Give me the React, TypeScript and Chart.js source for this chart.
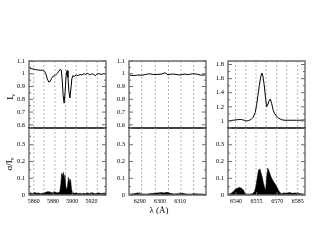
import React, { useEffect, useRef } from "react";
import { Chart, registerables } from "chart.js";
Chart.register(...registerables);

// ---------- Panel 1 : He I 5876 / Na I D ----------
const naWave = [5855, 5857, 5859, 5861, 5863, 5865, 5867, 5869, 5871, 5872.5, 5874, 5875.5, 5877, 5878.5, 5880, 5882, 5884, 5886, 5887.5, 5888.5, 5889.5, 5890.5, 5891.5, 5892.5, 5893.5, 5894.5, 5895.5, 5896.5, 5897.5, 5898.5, 5899.5, 5900.5, 5902, 5904, 5906, 5908, 5910, 5912, 5914, 5916, 5918, 5920, 5922, 5924, 5926, 5928, 5930, 5932, 5935];
const naFlux = [1.05, 1.04, 1.038, 1.035, 1.03, 1.03, 1.027, 1.028, 1.02, 1.0, 0.96, 0.935, 0.94, 0.965, 0.98, 0.985, 1.0, 1.02, 1.035, 1.03, 0.95, 0.83, 0.77, 0.86, 0.98, 1.025, 0.97, 0.86, 0.81, 0.88, 0.96, 0.985, 0.98, 0.99, 0.985, 0.995, 0.99, 1.0, 0.995, 1.005, 0.99, 1.0, 0.995, 0.985, 1.0, 1.0, 0.995, 1.0, 1.0];
const naSigWave = [5855, 5857, 5859, 5861, 5863, 5865, 5867, 5869, 5871, 5873, 5875, 5877, 5879, 5881, 5883, 5885, 5887, 5888, 5889, 5890, 5890.8, 5891.5, 5892.2, 5893, 5894, 5895, 5896, 5896.8, 5897.5, 5898.3, 5899, 5900, 5902, 5904, 5906, 5908, 5910, 5912, 5914, 5916, 5918, 5920, 5922, 5924, 5926, 5928, 5930, 5932, 5935];
const naSigma = [0.01, 0.012, 0.008, 0.015, 0.01, 0.012, 0.008, 0.01, 0.012, 0.018, 0.02, 0.018, 0.012, 0.02, 0.015, 0.012, 0.02, 0.06, 0.13, 0.11, 0.135, 0.1, 0.12, 0.06, 0.03, 0.05, 0.105, 0.08, 0.095, 0.085, 0.04, 0.015, 0.01, 0.012, 0.008, 0.01, 0.006, 0.01, 0.008, 0.012, 0.008, 0.015, 0.01, 0.008, 0.01, 0.012, 0.008, 0.01, 0.012];
const naRange = [5855, 5935];
const naXTicks = [5860, 5880, 5900, 5920];
const naGrid = [5860, 5870.5, 5882, 5893, 5904, 5915, 5926];

// ---------- Panel 2 : [O I] 6300 ----------
const oiWave = [6285, 6287, 6289, 6291, 6293, 6295, 6297, 6299, 6301, 6302.5, 6304, 6306, 6308, 6310, 6312, 6314, 6316, 6318, 6320, 6322.5];
const oiFlux = [0.99, 0.985, 0.99, 0.988, 0.995, 1.0, 0.993, 0.995, 0.998, 1.008, 0.992, 0.998, 0.995, 0.99, 0.998, 0.993, 1.0, 0.998, 0.99, 0.99];
const oiSigWave = [6285, 6287, 6289, 6291, 6293, 6295, 6297, 6299, 6300.5, 6302, 6303.5, 6305, 6307, 6309, 6311, 6313, 6315, 6317, 6319, 6322.5];
const oiSigma = [0.005, 0.008, 0.012, 0.006, 0.005, 0.008, 0.01, 0.012, 0.015, 0.012, 0.016, 0.01, 0.006, 0.008, 0.01, 0.006, 0.005, 0.008, 0.006, 0.005];
const oiRange = [6284.7, 6322.8];
const oiXTicks = [6290, 6300, 6310];
const oiGrid = [6291, 6297.7, 6304.2, 6310.4, 6316.7];

// ---------- Panel 3 : H alpha ----------
const haWave = [6534, 6536, 6538, 6540, 6542, 6544, 6546, 6547.5, 6549, 6551, 6552.5, 6554, 6555, 6556, 6557, 6558, 6558.8, 6559.5, 6560.5, 6561.5, 6562.3, 6563, 6564, 6565, 6566, 6567, 6568, 6569.5, 6571, 6573, 6575, 6578, 6581, 6584, 6587, 6590.3];
const haFlux = [1.0, 1.005, 1.01, 1.015, 1.02, 1.02, 1.01, 1.0, 1.005, 1.02, 1.05, 1.12, 1.22, 1.36, 1.5, 1.62, 1.68, 1.65, 1.52, 1.34, 1.2, 1.22, 1.28, 1.31, 1.25, 1.16, 1.11, 1.07, 1.04, 1.02, 1.01, 1.01, 1.01, 1.01, 1.01, 1.015];
const haSigWave = [6534, 6536, 6538, 6539.5, 6541, 6542.5, 6544, 6545.5, 6546.5, 6548, 6550, 6552, 6553.5, 6554.5, 6555.5, 6556.5, 6557.5, 6558.3, 6559, 6560, 6561, 6561.7, 6562.3, 6563.2, 6564, 6565, 6566, 6567, 6568.5, 6570, 6571.5, 6573, 6575, 6577, 6579, 6581, 6583, 6585, 6587, 6590.3];
const haSigma = [0.005, 0.008, 0.02, 0.035, 0.04, 0.045, 0.04, 0.03, 0.008, 0.005, 0.005, 0.008, 0.02, 0.05, 0.1, 0.15, 0.155, 0.13, 0.11, 0.07, 0.04, 0.03, 0.1, 0.16, 0.145, 0.12, 0.1, 0.085, 0.065, 0.045, 0.02, 0.008, 0.012, 0.01, 0.015, 0.01, 0.012, 0.01, 0.008, 0.005];
const haRange = [6534.2, 6590.3];
const haXTicks = [6540, 6555, 6570, 6585];
const haGrid = [6539.8, 6547.2, 6554.6, 6561.9, 6569.7, 6577, 6585];

// ---------- Y axes ----------
const fluxRange = [0.575, 1.1];
const fluxTicks = [0.6, 0.7, 0.8, 0.9, 1, 1.1];
const haFluxRange = [0.9, 1.85];
const haFluxTicks = [1, 1.2, 1.4, 1.6, 1.8];
const sigmaRange = [0, 0.4];
const sigmaTicks = [0, 0.1, 0.2, 0.3, 0.4];
const sigmaLabels = [0, 0.1, 0.2, 0.3];

const SERIF = "'Liberation Serif', 'Times New Roman', serif";
const FRAME = "#6a6a6a";

type PanelSpec = {
  wave: number[]; flux: number[]; sigWave: number[]; sigma: number[];
  xr: number[]; xt: number[]; grid: number[]; yr: number[]; yt: number[];
};

const panels: PanelSpec[] = [
  { wave: naWave, flux: naFlux, sigWave: naSigWave, sigma: naSigma, xr: naRange, xt: naXTicks, grid: naGrid, yr: fluxRange, yt: fluxTicks },
  { wave: oiWave, flux: oiFlux, sigWave: oiSigWave, sigma: oiSigma, xr: oiRange, xt: oiXTicks, grid: oiGrid, yr: fluxRange, yt: fluxTicks },
  { wave: haWave, flux: haFlux, sigWave: haSigWave, sigma: haSigma, xr: haRange, xt: haXTicks, grid: haGrid, yr: haFluxRange, yt: haFluxTicks },
];

const COL_LEFT = [29, 128.5, 228];
const PLOT_W = 77;
const TOP_Y = 61;
const MID_Y = 128;
const BOT_Y = 195;

function minorOf(major: number[], lo: number, hi: number) {
  const out: number[] = [];
  const step = major[1] - major[0];
  const cands = [major[0] - step / 2, ...major.map((m) => m + step / 2)];
  cands.forEach((c) => { if (c > lo + 1e-9 && c < hi - 1e-9) out.push(c); });
  return out;
}

function makeDecor(grid: number[], yMajor: number[], yMinor: number[], xMajor: number[], isBottom: boolean) {
  return {
    id: "decor",
    beforeDatasetsDraw(chart: any) {
      const { ctx, chartArea: a, scales } = chart;
      ctx.save();
      ctx.strokeStyle = "#a0a0a0";
      ctx.lineWidth = 0.8;
      ctx.setLineDash([2, 2]);
      grid.forEach((g) => {
        const px = scales.x.getPixelForValue(g);
        ctx.beginPath();
        ctx.moveTo(px, a.top);
        ctx.lineTo(px, a.bottom);
        ctx.stroke();
      });
      ctx.restore();
    },
    afterDatasetsDraw(chart: any) {
      const { ctx, chartArea: a, scales } = chart;
      ctx.save();
      ctx.strokeStyle = FRAME;
      ctx.lineWidth = 1;
      const tick = (x1: number, y1: number, x2: number, y2: number) => {
        ctx.beginPath(); ctx.moveTo(x1, y1); ctx.lineTo(x2, y2); ctx.stroke();
      };
      yMajor.forEach((v) => {
        const py = scales.y.getPixelForValue(v);
        tick(a.left, py, a.left + 4, py);
        tick(a.right, py, a.right - 4, py);
      });
      yMinor.forEach((v) => {
        const py = scales.y.getPixelForValue(v);
        tick(a.left, py, a.left + 2, py);
        tick(a.right, py, a.right - 2, py);
      });
      if (isBottom) {
        xMajor.forEach((v) => {
          const px = scales.x.getPixelForValue(v);
          tick(px, a.bottom, px, a.bottom - 3);
        });
      }
      ctx.lineWidth = 1.4;
      ctx.beginPath();
      if (isBottom) {
        ctx.moveTo(a.left, a.top);
        ctx.lineTo(a.left, a.bottom);
        ctx.lineTo(a.right, a.bottom);
        ctx.lineTo(a.right, a.top);
      } else {
        ctx.moveTo(a.left, a.bottom);
        ctx.lineTo(a.left, a.top);
        ctx.lineTo(a.right, a.top);
        ctx.lineTo(a.right, a.bottom);
      }
      ctx.stroke();
      if (!isBottom) {
        ctx.strokeStyle = "#000";
        ctx.lineWidth = 1.6;
        ctx.beginPath();
        ctx.moveTo(a.left - 0.7, a.bottom);
        ctx.lineTo(a.right + 0.7, a.bottom);
        ctx.stroke();
      }
      ctx.restore();
    },
  };
}

function makeConfig(p: PanelSpec, isBottom: boolean): any {
  const xs = isBottom ? p.sigWave : p.wave;
  const ys = isBottom ? p.sigma : p.flux;
  const yr = isBottom ? sigmaRange : p.yr;
  const yt = isBottom ? sigmaTicks : p.yt;
  const yl = isBottom ? sigmaLabels : p.yt;
  const pts = xs.map((x, i) => ({ x, y: ys[i] }));
  return {
    type: "line",
    data: {
      datasets: [
        {
          data: pts,
          borderColor: "#000",
          borderWidth: isBottom ? 0.6 : 1,
          backgroundColor: "#000",
          fill: isBottom ? "origin" : false,
          pointRadius: 0,
          tension: 0,
        },
      ],
    },
    options: {
      animation: false,
      responsive: false,
      maintainAspectRatio: false,
      events: [],
      layout: { padding: { top: 8, right: 10, left: 2, bottom: 2 } },
      plugins: { legend: { display: false }, tooltip: { enabled: false } },
      scales: {
        x: {
          type: "linear",
          min: p.xr[0],
          max: p.xr[1],
          display: isBottom,
          grid: { display: false, drawTicks: false, tickLength: 0 },
          border: { display: false },
          ticks: {
            color: "#000",
            font: { family: SERIF, size: 6 },
            padding: 3,
            maxRotation: 0,
            autoSkip: false,
            callback: (v: any) => String(v),
          },
          afterBuildTicks: (s: any) => { s.ticks = p.xt.map((v) => ({ value: v })); },
          afterFit: (s: any) => { s.height = 14; },
        },
        y: {
          type: "linear",
          min: yr[0],
          max: yr[1],
          grid: { display: false, drawTicks: false, tickLength: 0 },
          border: { display: false },
          ticks: {
            color: "#000",
            font: { family: SERIF, size: 6.5 },
            padding: 4,
            autoSkip: false,
            callback: (v: any) => String(v),
          },
          afterBuildTicks: (s: any) => { s.ticks = yl.map((v) => ({ value: v })); },
          afterFit: (s: any) => { s.width = 26; },
        },
      },
    },
    plugins: [makeDecor(p.grid, yt, minorOf(yt, yr[0], yr[1]), p.xt, isBottom)],
  };
}

function build(canvas: HTMLCanvasElement, p: PanelSpec, isBottom: boolean, left: number, top: number, w: number, h: number) {
  let cw = w + 38;
  let ch = h + (isBottom ? 24 : 10);
  canvas.width = cw;
  canvas.height = ch;
  let chart = new Chart(canvas, makeConfig(p, isBottom));
  let a = chart.chartArea;
  const dw = w - (a.right - a.left);
  const dh = h - (a.bottom - a.top);
  if (Math.abs(dw) > 0.01 || Math.abs(dh) > 0.01) {
    chart.destroy();
    cw = Math.round(cw + dw);
    ch = Math.round(ch + dh);
    canvas.width = cw;
    canvas.height = ch;
    chart = new Chart(canvas, makeConfig(p, isBottom));
    a = chart.chartArea;
  }
  canvas.style.left = `${left - a.left}px`;
  canvas.style.top = `${top - a.top}px`;
  return chart;
}

export default function App() {
  const refs = useRef<(HTMLCanvasElement | null)[]>([]);

  useEffect(() => {
    const charts: Chart[] = [];
    panels.forEach((p, i) => {
      const top = refs.current[i * 2];
      const bot = refs.current[i * 2 + 1];
      if (top) charts.push(build(top, p, false, COL_LEFT[i], TOP_Y, PLOT_W, MID_Y - TOP_Y));
      if (bot) charts.push(build(bot, p, true, COL_LEFT[i], MID_Y, PLOT_W, BOT_Y - MID_Y));
    });
    return () => charts.forEach((c) => c.destroy());
  }, []);

  const textStyle: React.CSSProperties = {
    position: "absolute",
    fontFamily: SERIF,
    color: "#000",
    whiteSpace: "nowrap",
    lineHeight: 1,
  };

  return (
    <div style={{ position: "absolute", left: 0, top: 0, width: 317, height: 245, background: "#fff", overflow: "hidden" }}>
      {[0, 1, 2, 3, 4, 5].map((k) => (
        <canvas
          key={k}
          ref={(el) => { refs.current[k] = el; }}
          style={{ position: "absolute", left: 0, top: 0 }}
        />
      ))}
      <div style={{ ...textStyle, left: 10.5, top: 97, fontSize: 9, transform: "translate(-50%, -50%) rotate(-90deg)" }}>
        I<sub style={{ fontSize: 6, verticalAlign: "-2px" }}>ν</sub>
      </div>
      <div style={{ ...textStyle, left: 10, top: 164, fontSize: 9, transform: "translate(-50%, -50%) rotate(-90deg)" }}>
        σ/I<sub style={{ fontSize: 6, verticalAlign: "-2px" }}>ν</sub>
      </div>
      <div style={{ ...textStyle, left: 159, top: 210, fontSize: 9, transform: "translate(-50%, -50%)" }}>
        λ (Å)
      </div>
    </div>
  );
}
